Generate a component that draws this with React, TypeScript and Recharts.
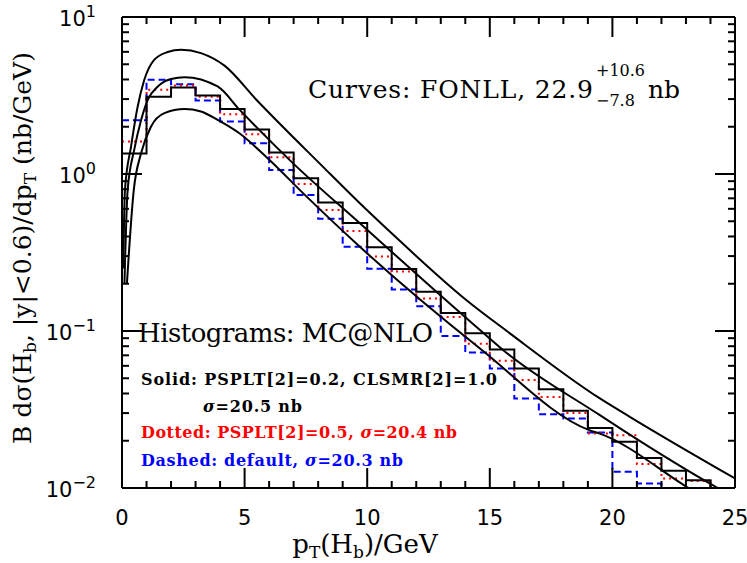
import React from 'react';
import { LineChart, Line, XAxis, YAxis } from 'recharts';

// ---- data ----
const binEdges = [0, 1, 2, 3, 4, 5, 6, 7, 8, 9, 10, 11, 12, 13, 14, 15, 16, 17, 18, 19, 20, 21, 22, 23, 24, 25];
const solidHist = [1.35, 3.10, 3.56, 3.16, 2.59, 1.92, 1.37, 0.94, 0.658, 0.488, 0.342, 0.248, 0.178, 0.130, 0.0968, 0.0763, 0.0578, 0.0425, 0.031, 0.0241, 0.0197, 0.0155, 0.0129, 0.0112, 0.0085];
const dottedHist = [1.61, 3.44, 3.66, 3.10, 2.40, 1.79, 1.28, 0.865, 0.59, 0.433, 0.298, 0.239, 0.161, 0.123, 0.083, 0.0646, 0.0488, 0.038, 0.030, 0.0222, 0.0217, 0.0142, 0.0115, 0.0111, 0.008];
const dashedHist = [2.20, 3.98, 3.73, 2.94, 2.16, 1.57, 1.06, 0.736, 0.518, 0.344, 0.249, 0.184, 0.144, 0.093, 0.073, 0.0578, 0.0372, 0.0295, 0.0277, 0.0226, 0.0127, 0.0107, 0.008, 0.007, 0.006];

const upperPt = [0.05, 0.12, 0.37, 0.64, 0.91, 1.32, 1.86, 2.41, 3.22, 4.18, 5.48, 8.2, 9.7, 10.92, 14.05, 15.82, 19.49, 20.71, 25];
const upperVal = [0.25, 0.79, 1.5, 2.69, 3.98, 5.35, 5.98, 6.19, 5.89, 4.9, 2.97, 1.11, 0.651, 0.43, 0.157, 0.0966, 0.0372, 0.0284, 0.0115];

const centralPt = [0.1, 0.23, 0.5, 0.78, 1.05, 1.46, 2.0, 2.55, 3.9, 4.8, 7.0, 9.7, 14.6, 15.55, 19.49, 20.44, 24.3, 25];
const centralVal = [0.2, 0.79, 1.43, 2.21, 2.97, 3.61, 4.03, 4.14, 3.61, 2.56, 1.16, 0.485, 0.1014, 0.0755, 0.0291, 0.0233, 0.01, 0.0087];

const lowerPt = [0.2, 0.48, 0.78, 1.18, 1.73, 2.55, 3.22, 3.9, 4.8, 5.94, 7.52, 9.7, 14.6, 19.08, 19.49, 23.1, 25];
const lowerVal = [0.2, 0.79, 1.36, 2.0, 2.44, 2.59, 2.5, 2.21, 1.81, 1.26, 0.72, 0.344, 0.0774, 0.0233, 0.0222, 0.01, 0.0066];

const xTicks = [0, 1, 2, 3, 4, 5, 6, 7, 8, 9, 10, 11, 12, 13, 14, 15, 16, 17, 18, 19, 20, 21, 22, 23, 24, 25];
const xMajor = [0, 5, 10, 15, 20, 25];
const yTicks = [0.01, 0.02, 0.03, 0.04, 0.05, 0.06, 0.07, 0.08, 0.09, 0.1, 0.2, 0.3, 0.4, 0.5, 0.6, 0.7, 0.8, 0.9, 1, 2, 3, 4, 5, 6, 7, 8, 9, 10];

// ---- helpers ----
const histData = (vals: number[]) => binEdges.map((x, i) => ({ x, y: vals[Math.min(i, vals.length - 1)] }));
const curveData = (pts: number[], vals: number[]) => pts.map((x, i) => ({ x, y: vals[i] }));

const isDecade = (v: number) => Math.abs(Math.log10(v) - Math.round(Math.log10(v))) < 1e-6;
const TICKW = 2;

const BottomTick = (p: any) => {
  const { x, y, payload } = p;
  const v = payload.value;
  const major = xMajor.includes(v);
  return (
    <g>
      <line x1={x} y1={y} x2={x} y2={y - (major ? 20 : 7)} stroke="#000" strokeWidth={TICKW} />
      {major && (
        <text x={x} y={y + 37} textAnchor="middle" fontFamily="DejaVu Sans" fontSize={21} fill="#000">{v}</text>
      )}
    </g>
  );
};
const TopTick = (p: any) => {
  const { x, y, payload } = p;
  const major = xMajor.includes(payload.value);
  return <line x1={x} y1={y} x2={x} y2={y + (major ? 20 : 7)} stroke="#000" strokeWidth={TICKW} />;
};
const LeftTick = (p: any) => {
  const { x, y, payload } = p;
  const v = payload.value;
  const major = isDecade(v);
  const e = Math.round(Math.log10(v));
  return (
    <g>
      <line x1={x} y1={y} x2={x + (major ? 20 : 7)} y2={y} stroke="#000" strokeWidth={TICKW} />
      {major && (
        <text x={x - 26} y={y + 9} textAnchor="end" fontFamily="DejaVu Sans" fontSize={21} fill="#000">
          10<tspan dy={-9} fontSize={16}>{e < 0 ? '\u2212' + -e : String(e)}</tspan>
        </text>
      )}
    </g>
  );
};
const RightTick = (p: any) => {
  const { x, y, payload } = p;
  const major = isDecade(payload.value);
  return <line x1={x} y1={y} x2={x - (major ? 20 : 7)} y2={y} stroke="#000" strokeWidth={TICKW} />;
};

const axisLine = { stroke: '#000', strokeWidth: 2 };
const SERIF = 'DejaVu Serif';

export default function App() {
  return (
    <div style={{ position: 'absolute', left: 0, top: 0, width: 747, height: 563, background: '#fff' }}>
      <LineChart width={747} height={563} margin={{ top: 0, right: 0, bottom: 0, left: 0 }}>
        <XAxis xAxisId="b" dataKey="x" type="number" domain={[0, 25]} ticks={xTicks} interval={0}
          orientation="bottom" height={75} allowDataOverflow axisLine={axisLine} tickLine={false}
          tickSize={0} tickMargin={0} tick={<BottomTick />} />
        <XAxis xAxisId="t" dataKey="x" type="number" domain={[0, 25]} ticks={xTicks} interval={0}
          orientation="top" height={17} allowDataOverflow axisLine={axisLine} tickLine={false}
          tickSize={0} tickMargin={0} tick={<TopTick />} />
        <YAxis yAxisId="l" dataKey="y" type="number" scale="log" domain={[0.01, 10]} ticks={yTicks} interval={0}
          orientation="left" width={122} allowDataOverflow axisLine={axisLine} tickLine={false}
          tickSize={0} tickMargin={0} tick={<LeftTick />} />
        <YAxis yAxisId="r" dataKey="y" type="number" scale="log" domain={[0.01, 10]} ticks={yTicks} interval={0}
          orientation="right" width={12} allowDataOverflow axisLine={axisLine} tickLine={false}
          tickSize={0} tickMargin={0} tick={<RightTick />} />

        <Line xAxisId="b" yAxisId="l" data={histData(dashedHist)} dataKey="y" type="stepAfter" stroke="#0000ff"
          strokeWidth={2} strokeDasharray="7 4" dot={false} isAnimationActive={false} />
        <Line xAxisId="b" yAxisId="l" data={histData(dottedHist)} dataKey="y" type="stepAfter" stroke="#ff0000"
          strokeWidth={2} strokeDasharray="2 4" dot={false} isAnimationActive={false} />
        <Line xAxisId="b" yAxisId="l" data={histData(solidHist)} dataKey="y" type="stepAfter" stroke="#000"
          strokeWidth={2} dot={false} isAnimationActive={false} />
        <Line xAxisId="b" yAxisId="l" data={curveData(upperPt, upperVal)} dataKey="y" type="monotone" stroke="#000"
          strokeWidth={2} dot={false} isAnimationActive={false} />
        <Line xAxisId="b" yAxisId="l" data={curveData(centralPt, centralVal)} dataKey="y" type="monotone" stroke="#000"
          strokeWidth={2} dot={false} isAnimationActive={false} />
        <Line xAxisId="b" yAxisId="l" data={curveData(lowerPt, lowerVal)} dataKey="y" type="monotone" stroke="#000"
          strokeWidth={2} dot={false} isAnimationActive={false} />
      </LineChart>

      <svg width={747} height={563} style={{ position: 'absolute', left: 0, top: 0, pointerEvents: 'none' }}>
        <text transform="translate(31,248) rotate(-90)" textAnchor="middle" fontFamily={SERIF} fontSize={25} fill="#000">
          B d{'\u03c3'}(H<tspan dy={5} fontSize={17}>b</tspan><tspan dy={-5}>, |y|&lt;0.6)/dp</tspan>
          <tspan dy={5} fontSize={17}>T</tspan><tspan dy={-5}> (nb/GeV)</tspan>
        </text>
        <text x={365} y={553} textAnchor="middle" fontFamily={SERIF} fontSize={26} fill="#000">
          p<tspan dy={5} fontSize={17}>T</tspan><tspan dy={-5}>(H</tspan><tspan dy={5} fontSize={17}>b</tspan>
          <tspan dy={-5}>)/GeV</tspan>
        </text>

        <text x={308} y={98} fontFamily={SERIF} fontSize={25} fill="#000" textLength={285}>Curves:  FONLL,  22.9</text>
        <text x={596} y={76} fontFamily={SERIF} fontSize={16} fill="#000">+10.6</text>
        <text x={596} y={106} fontFamily={SERIF} fontSize={16} fill="#000">{'\u2212'}7.8</text>
        <text x={648} y={98} fontFamily={SERIF} fontSize={25} fill="#000">nb</text>

        <text x={138} y={342} fontFamily={SERIF} fontSize={26} fill="#000" textLength={295}>Histograms:  MC@NLO</text>
        <text x={141} y={385} fontFamily={SERIF} fontWeight="bold" fontSize={16} fill="#000" textLength={356}>Solid: PSPLT[2]=0.2, CLSMR[2]=1.0</text>
        <text x={203} y={412} fontFamily={SERIF} fontWeight="bold" fontSize={16} fill="#000" textLength={99}>
          <tspan fontStyle="italic">{'\u03c3'}</tspan>=20.5 nb
        </text>
        <text x={141} y={438} fontFamily={SERIF} fontWeight="bold" fontSize={16} fill="#ff0000" textLength={316}>
          Dotted: PSPLT[2]=0.5, <tspan fontStyle="italic">{'\u03c3'}</tspan>=20.4 nb
        </text>
        <text x={141} y={466} fontFamily={SERIF} fontWeight="bold" fontSize={16} fill="#0000ff" textLength={262}>
          Dashed: default, <tspan fontStyle="italic">{'\u03c3'}</tspan>=20.3 nb
        </text>
      </svg>
    </div>
  );
}
